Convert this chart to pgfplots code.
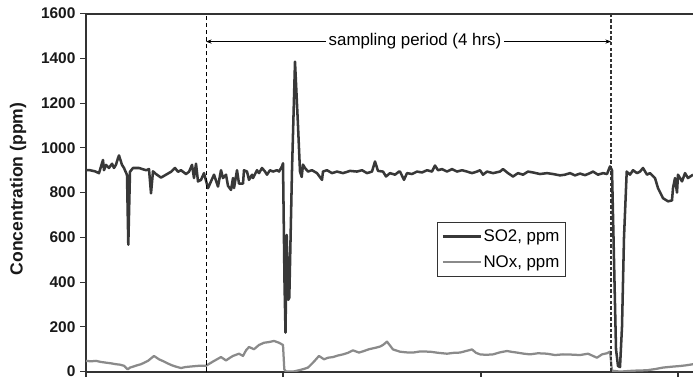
\documentclass[border=0pt]{standalone}
\usepackage{fontspec}
\setmainfont{Liberation Sans}
\usepackage{pgfplots}
\pgfplotsset{compat=1.18}
\usetikzlibrary{arrows.meta}
\definecolor{so2col}{HTML}{383838}
\definecolor{noxcol}{HTML}{8A8A8A}
\definecolor{axcol}{HTML}{333333}
\begin{document}
\begin{tikzpicture}
\begin{axis}[
  name=ax,
  scale only axis,
  width=151.75mm, height=89.5mm,
  xmin=0, xmax=607, ymin=0, ymax=1600,
  axis lines*=left,
  axis line style={color=axcol, line width=1.3pt},
  xtick={0,197,395,592}, xticklabels={},
  ytick={0,200,...,1600},
  tick align=outside,
  major tick length=1.4mm,
  tick style={color=axcol, line width=0.8pt},
  /pgf/number format/assume math mode=true,
  /pgf/number format/set thousands separator={},
  yticklabel style={font=\bfseries\fontsize{11}{13}\selectfont, color=black!90},
  ylabel={Concentration (ppm)},
  ylabel style={font=\bfseries\fontsize{12.5}{14}\selectfont, color=black!90, at={(axis description cs:-0.112,0.51)}, anchor=center},
  legend style={at={(axis cs:351,668)}, anchor=north west, draw=black!80, line width=0.5pt,
    font=\fontsize{12}{14}\selectfont, inner xsep=3pt, inner ysep=4pt, row sep=6.5pt,
    nodes={inner sep=1pt}},
  legend cell align=left,
  legend image code/.code={\draw[#1] (0cm,0cm) -- (0.95cm,0cm);},
  clip=true,
]
\addplot[so2col, line width=1.8pt, line join=round] coordinates {
(0,900)(4,900)(9,895)(13,887)(17,946)(18,900)(20,924)(23,910)(26,929)(28,910)(30,925)(32,954)(33,966)(36,924)(38,910)(41,879)(42.3,567)(44,893)(47,910)(53,910)(60,900)(63,905)(65,797)(67,895)(70,883)(75,867)(80,880)(85,893)(89,910)(92,893)(95,900)(100,883)(103,893)(106,924)(108,865)(110,929)(112,850)(115,857)(118,887)(122,820)(125,850)(128,880)(132,827)(135,900)(137,865)(140,880)(142,830)(145,812)(147,865)(148,820)(151,900)(153,840)(157,840)(158,900)(161,894)(163,857)(166,880)(167,865)(171,900)(173,887)(176,910)(179,894)(181,880)(184,900)(187,894)(191,900)(193,894)(196,917)(197,931)(198.5,400)(199.5,174)(200.7,611)(202.3,321)(203.3,330)(206,900)(209,1385)(212,1100)(214,894)(215.7,870)(217,925)(219,910)(222,894)(226,900)(231,887)(236,857)(237,894)(241,900)(246,887)(251,894)(257,887)(264,897)(271,894)(276,900)(281,887)(286,894)(289,939)(292,897)(297,894)(300,872)(304,887)(309,880)(313,894)(314,894)(318,857)(321,887)(326,883)(331,894)(336,890)(341,900)(346,894)(349,921)(352,900)(356,905)(361,894)(366,905)(371,894)(376,900)(381,894)(386,887)(391,894)(394,900)(397,880)(401,894)(407,887)(414,894)(417,905)(422,887)(427,872)(432,887)(437,880)(442,894)(447,890)(454,883)(461,887)(467,883)(474,877)(479,880)(484,887)(489,877)(494,885)(499,878)(504,887)(507,894)(512,880)(517,887)(521,883)(524,917)(526,900)(528,500)(530,100)(532,25)(534,20)(536,200)(538,600)(540.7,894)(544,880)(547,900)(551,887)(554,894)(557,910)(561,880)(564,887)(569,865)(572,820)(577,775)(582,761)(586,765)(587,820)(589,865)(591,800)(592,880)(596,850)(599,887)(602,865)(607,880)
};
\addlegendentry{SO2, ppm}
\addplot[noxcol, line width=1.6pt, line join=round] coordinates {
(0,48)(5,46)(10,48)(15,43)(20,40)(25,37)(30,33)(34,31)(38,26)(41.7,10)(44,18)(47,22)(51,28)(55,33)(62,48)(68,70)(73,55)(78,45)(82,36)(86,28)(90,22)(95,16)(99,20)(103,22)(108,24)(113,26)(120,26)(127,45)(131,55)(135,65)(140,50)(144,62)(147,70)(153,80)(157,70)(160,95)(163,110)(168,100)(173,119)(178,129)(183,132)(188,137)(193,129)(197,119)(198.3,10)(200,0)(207,0)(213,6)(218,12)(222,18)(227,40)(233,70)(238,55)(242,62)(247,65)(252,72)(257,77)(262,84)(267,95)(273,85)(278,92)(283,100)(290,107)(294,112)(297,119)(301,134)(307,99)(314,89)(320,86)(327,85)(334,90)(344,89)(352,84)(361,80)(368,84)(374,85)(380,92)(386,99)(390,84)(394,77)(400,75)(407,77)(414,86)(421,92)(426,88)(431,85)(438,80)(444,77)(452,82)(461,80)(469,74)(477,77)(485,76)(494,74)(502,80)(506,72)(511,62)(516,77)(521,82)(524,89)(526,4)(534,0)(547,4)(561,6)(570,12)(577,18)(586,22)(594,25)(600,28)(607,33)
};
\addlegendentry{NOx, ppm}
\draw[black, line width=0.6pt, dash pattern=on 3pt off 2pt] (axis cs:120,0) -- (axis cs:120,1600);
\draw[black!80, line width=0.8pt, dash pattern=on 2.5pt off 1.5pt] (axis cs:525,0) -- (axis cs:525,1600);
\draw[black, line width=0.6pt, {Stealth[length=4pt,width=3pt]}-{Stealth[length=4pt,width=3pt]}] (axis cs:120,1475) -- (axis cs:525,1475);
\node[fill=white, inner sep=2pt, font=\fontsize{12}{14}\selectfont] at (axis cs:329,1475) {sampling period (4 hrs)};
\draw[axcol, line width=1.3pt] (rel axis cs:0,1) -- (rel axis cs:1,1);
\end{axis}
\pgfresetboundingbox
\path ([shift={(-21.5mm,-2.1mm)}]ax.south west) rectangle ([shift={(0mm,3.4mm)}]ax.north east);
\end{tikzpicture}
\end{document}
